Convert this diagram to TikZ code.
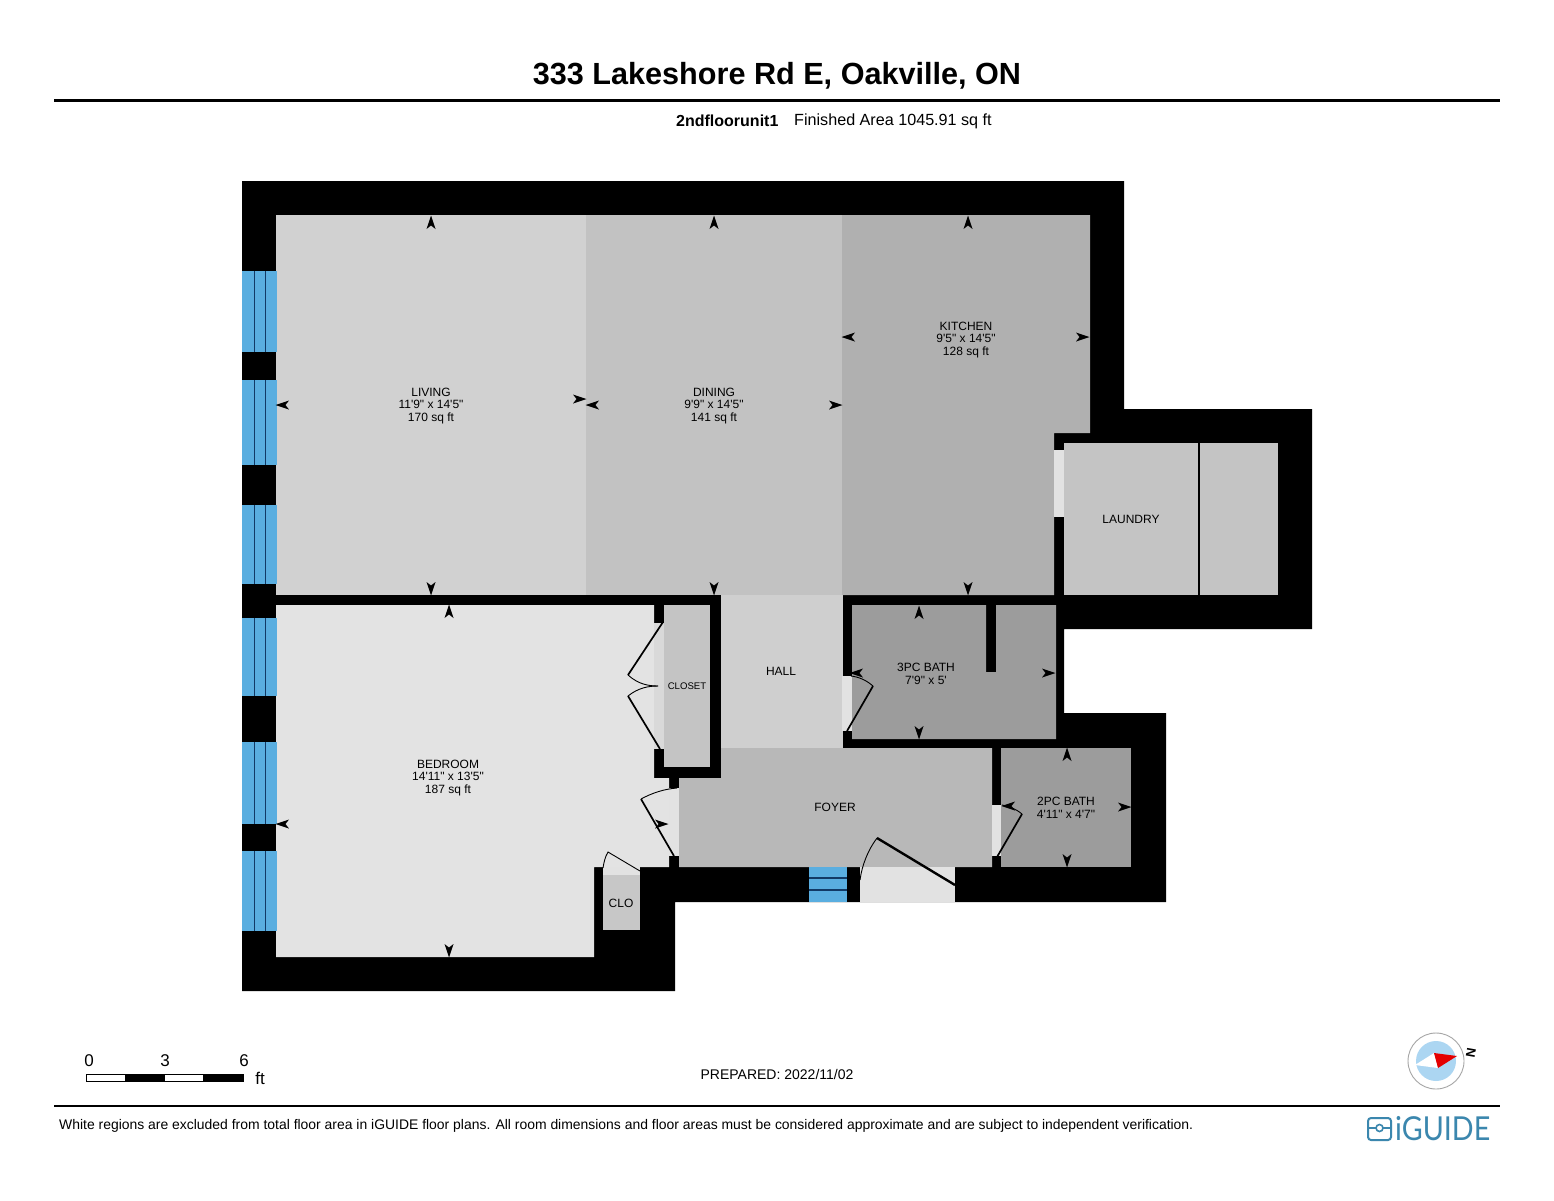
\documentclass[tikz,border=0pt]{standalone}
\usepackage{fontspec}
\setmainfont{Liberation Sans}
\newfontfamily\roomfont{Liberation Sans}
\newfontfamily\logofont{Lato}
\newcommand{\fs}[1]{\fontsize{#1}{#1}\selectfont}
\definecolor{winblue}{HTML}{5AAEE0}
\definecolor{winline}{HTML}{123A66}
\definecolor{strip}{HTML}{E2E2E2}
\definecolor{logoblue}{HTML}{3B87AE}
\definecolor{compassblue}{HTML}{ACD6F2}
\newcommand{\arr}[3]{\fill[black,shift={(#1,#2)},rotate=#3] (7.5,0) -- (-6,-4.5) -- (-2.5,0) -- (-6,4.5) -- cycle;}
\newcommand{\win}[2]{\fill[winblue] (242,#1) rectangle (277,#2);
  \draw[line width=1.7pt,winline] (254.5,#1) -- (254.5,#2) (265.5,#1) -- (265.5,#2);}
\tikzset{
  room/.style={font=\roomfont\fontsize{12}{12.6}\selectfont, align=center, text=black, inner sep=0pt},
  doorline/.style={line width=1.7pt, black},
  doorarc/.style={line width=0.9pt, black}
}
\begin{document}
\begin{tikzpicture}[x=1pt,y=-1pt]
\useasboundingbox (0,0) rectangle (1554,1200);
\fill[white] (0,0) rectangle (1554,1200);
% building mass
\fill[black] (242,181) -- (1124,181) -- (1124,409) -- (1312,409) -- (1312,629) -- (1064,629) -- (1064,713) -- (1166,713) -- (1166,902) -- (675,902) -- (675,991) -- (242,991) -- cycle;
% rooms
\fill[black!18] (276,215) rectangle (586.5,595);
\fill[black!24] (586,215) rectangle (842.5,595);
\fill[black!31] (842,215) -- (1090,215) -- (1090,433) -- (1054,433) -- (1054,595) -- (842,595) -- cycle;
\fill[black!23] (1064,443) rectangle (1278,595);
\draw[line width=1.2pt] (1199,443) -- (1199,595);
\fill[strip] (1054,450) rectangle (1064,517);
\fill[black!19] (721,595) rectangle (842.5,748);
\fill[black!28] (679,778) -- (721,778) -- (721,748) -- (992,748) -- (992,867) -- (679,867) -- cycle;
\fill[black!11] (276,605) -- (654,605) -- (654,623) -- (654,749) -- (654,778) -- (669,778) -- (669,867) -- (640,867) -- (594,867) -- (594,957) -- (276,957) -- cycle;
\fill[black!23] (664,605) rectangle (710,767);
\fill[black!15] (654,623) rectangle (664,749);
\fill[black!39] (852,605) -- (986,605) -- (986,672) -- (996,672) -- (996,605) -- (1056,605) -- (1056,739) -- (852,739) -- cycle;
\fill[strip] (842,676) rectangle (852,731);
\fill[black!39] (1001,748) rectangle (1131,867);
\fill[strip] (992,805) rectangle (1001,856);
\fill[strip] (669,788) rectangle (679,856);
\fill[black!22] (603,875) rectangle (640,930);
\fill[strip] (603,867) rectangle (640,875);
\fill[strip] (860,867) rectangle (955,902);
% windows
\win{271}{352}\win{380}{465}\win{505}{584}\win{618}{696}\win{742}{824}\win{851}{931}
\fill[winblue] (809,867) rectangle (847,902);
\draw[line width=2pt,winline] (809,878) -- (847,878) (809,890) -- (847,890);
% doors
\draw[doorline] (663,622) -- (628,675);
\draw[doorarc] (628,675) .. controls (638,684) and (648,686) .. (658,686);
\draw[doorarc] (658,686) .. controls (648,686) and (638,688) .. (628,696);
\draw[doorline] (628,696) -- (660,749);
\draw[doorline] (674,856) -- (641,799);
\draw[doorarc] (641,799) .. controls (652,793) and (664,789) .. (677,788);
\draw[doorline] (847,731) -- (873,686);
\draw[doorarc] (873,686) .. controls (866,680) and (859,677) .. (851,676);
\draw[doorline] (997,857) -- (1022,814);
\draw[doorarc] (1022,814) .. controls (1016,809) and (1009,806) .. (1002,805);
\draw[line width=2.4pt] (955,885) -- (877,838);
\draw[doorarc] (877,838) .. controls (868,850) and (862,865) .. (860,880);
\draw[doorarc] (640,871) -- (608,852) .. controls (605,857) and (604,862) .. (603,868);
% dimension arrowheads
\arr{431}{223}{90}\arr{283}{405}{180}\arr{579}{399}{0}\arr{431}{588}{-90}
\arr{714}{223}{90}\arr{593}{405}{180}\arr{835}{405}{0}\arr{714}{588}{-90}
\arr{968}{223}{90}\arr{849}{337}{180}\arr{1082}{337}{0}\arr{968}{588}{-90}
\arr{449}{612}{90}\arr{283}{824}{180}\arr{661}{824}{0}\arr{449}{950}{-90}
\arr{919}{613}{90}\arr{857}{673}{180}\arr{1048}{673}{0}\arr{919}{732}{-90}
\arr{1067}{755}{90}\arr{1009}{806}{180}\arr{1124}{807}{0}\arr{1067}{860}{-90}
% room labels
\node[room] (living) at (431,406) {LIVING\\11'9" x 14'5"\\170 sq ft};
\node[room] (dining) at (714,406) {DINING\\9'9" x 14'5"\\141 sq ft};
\node[room] (kitchen) at (966,340) {KITCHEN\\9'5" x 14'5"\\128 sq ft};
\node[room] (laundry) at (1131,519) {LAUNDRY};
\node[room] (hall) at (781,671) {HALL};
\node[room] (bath3) at (926,674) {3PC BATH\\7'9" x 5'};
\node[room,font=\fs{9.6}] (closet) at (687,686) {CLOSET};
\node[room] (bedroom) at (448,778) {BEDROOM\\14'11" x 13'5"\\187 sq ft};
\node[room] (foyer) at (835,807) {FOYER};
\node[room] (bath2) at (1066,808) {2PC BATH\\4'11" x 4'7"};
\node[room] (clo) at (621,903) {CLO};
% header
\node[font=\fs{30.6}\bfseries,inner sep=0pt] (title) at (777,76) {333 Lakeshore Rd E, Oakville, ON};
\draw[line width=3pt] (54,100) -- (1500,100);
\node[font=\fs{16}\bfseries,inner sep=0pt,anchor=west] (unit) at (676,121) {2ndfloorunit1};
\node[font=\fs{16.15},inner sep=0pt,anchor=west] (area) at (794,121) {Finished Area 1045.91 sq ft};
% scale bar
\draw[line width=0.8pt,fill=white] (86,1074.5) rectangle (125,1081.5);
\fill[black] (125,1074) rectangle (164,1082);
\draw[line width=0.8pt,fill=white] (164,1074.5) rectangle (203,1081.5);
\fill[black] (203,1074) rectangle (244,1082);
\node[font=\fs{17},inner sep=0pt] (s0) at (89,1061) {0};
\node[font=\fs{17},inner sep=0pt] (s3) at (165,1061) {3};
\node[font=\fs{17},inner sep=0pt] (s6) at (244,1061) {6};
\node[font=\fs{17},inner sep=0pt] (sft) at (260,1078) {ft};
\node[font=\fs{14},inner sep=0pt] (prep) at (777,1074) {PREPARED: 2022/11/02};
% compass
\draw[draw=black!35,line width=0.9pt,fill=white] (1436,1061) circle (28);
\fill[compassblue] (1436,1061) circle (20);
\fill[white] (1415,1065) -- (1434,1053) -- (1438,1068) -- cycle;
\fill[red!90!black] (1434,1053) -- (1457,1056) -- (1438,1068) -- cycle;
\node[font=\fs{13}\bfseries,inner sep=0pt,rotate=-100] (north) at (1471,1053) {N};
% footer
\draw[line width=2.5pt] (54,1106) -- (1500,1106);
\node[font=\fs{13.93},inner sep=0pt,anchor=west] (note) at (59,1126) {White regions are excluded from total floor area in iGUIDE floor plans. All room dimensions and floor areas must be considered approximate and are subject to independent verification.};
% logo
\draw[logoblue,line width=2pt,rounded corners=3pt] (1368,1118) rectangle (1391,1140);
\draw[logoblue,line width=1.6pt] (1368,1128) -- (1376,1128) (1383,1128) -- (1391,1128);
\draw[logoblue,line width=1.6pt] (1379.5,1128) circle (3.5);
\node[font=\logofont\fs{33},text=logoblue,inner sep=0pt,anchor=west,transform shape,xscale=0.87] (logo) at (1395,1129) {iGUIDE};
\end{tikzpicture}
\end{document}
